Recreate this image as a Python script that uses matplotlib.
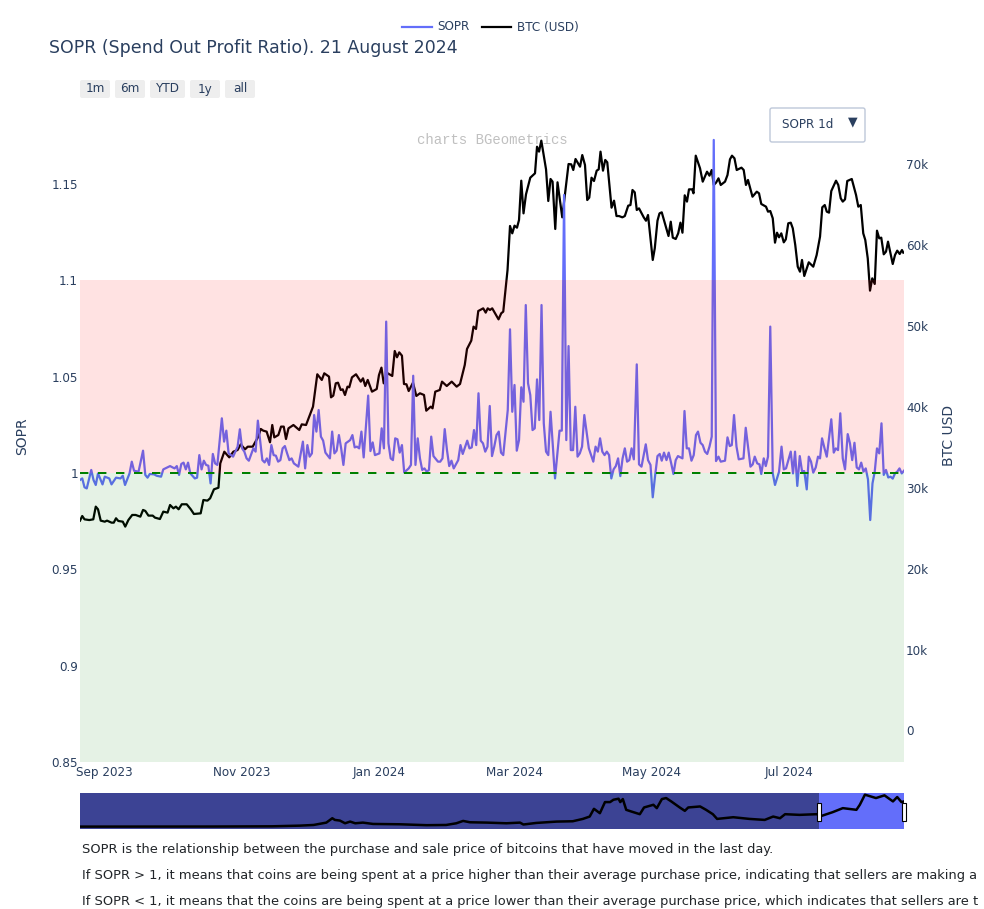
import pandas as pd
import matplotlib.pyplot as plt
from matplotlib.patches import FancyBboxPatch, Rectangle
from matplotlib.transforms import Affine2D

plt.rcParams['font.family'] = ['DejaVu Sans']

start = pd.Timestamp('2023-08-21')
end = start + pd.Timedelta(days=366)

# days since start, SOPR
sopr_days = [0,1,2,3,5,6,7,8,10,11,13,14,16,18,19,20,22,23,24,26,28,29,30,31,33,34,36,37,40,42,43,44,45,46,47,48,49,51,52,53,54,55,56,57,58,59,60,61,63,64,65,66,68,69,70,71,72,73,74,75,77,78,79,80,81,82,83,84,85,86,87,88,89,90,91,92,93,94,95,97,99,100,101,102,103,104,105,106,107,108,109,111,112,113,114,115,116,117,118,
    120,121,122,123,124,125,126,128,129,130,131,133,134,135,136,137,138,139,140,141,142,143,144,146,147,148,149,150,151,152,153,154,155,156,157,159,160,161,162,163,164,165,166,168,169,170,172,173,174,175,176,177,178,179,180,181,182,183,184,185,186,187,188,190,191,192,193,194,195,196,197,198,199,200,201,202,203,204,205,206,207,208,209,211,213,214,215,216,217,218,219,220,221,222,223,224,225,226,228,229,230,231,232,233,234,235,236,237,238,239,
    240,241,242,243,244,245,246,247.3,248.3,249.4,251.3,252.3,253.4,254.4,255.4,256.5,257.5,258.4,259.4,260.5,261.5,262.6,263.6,264.6,265.6,267.6,268.5,269.5,270.5,271.6,272.6,273.6,274.5,275.6,276.6,277.6,278.6,279.6,280.6,281.5,282.5,283.6,284.6,286.5,287.6,288.6,289.5,290.5,291.6,292.6,294.7,295.7,296.7,297.8,298.8,299.7,300.8,301.8,302.6,303.7,304.6,305.6,306.6,307.7,308.7,310.5,311.6,312.6,313.6,315.7,316.7,317.6,318.6,319.7,320.7,321.7,322.8,323.7,324.7,325.7,326.8,327.8,328.7,329.6,330.7,331.7,333.7,334.8,335.7,336.7,337.7,338.8,339.8,341,342,343,344,345,346,347,348,349,350,351,352,353,354,355,356,357,358,359,360,361,362,363,364,365,366]
sopr_vals = [0.9964,0.9972,0.9926,0.9920,1.0016,0.9964,0.9938,0.9998,0.9941,0.9981,0.9972,0.9941,0.9976,0.9972,0.9986,0.9938,0.9998,1.0059,1.0012,1.0007,1.0116,0.999,0.9976,0.9995,0.9993,0.9986,0.9981,1.0019,1.0036,1.0024,1.0036,0.999,1.0047,1.0054,1.0019,1.0054,0.9998,0.9972,0.9976,1.0093,1.0019,1.0064,1.0042,1.0038,0.9946,1.0099,1.005,1.0042,1.0284,1.0163,1.022,1.0102,1.0085,1.0111,1.0137,1.0227,1.0128,1.0111,1.0076,1.0064,1.0128,1.0111,1.0272,1.0171,1.0067,1.0055,1.0076,1.0042,1.0145,1.0093,1.009,1.0059,1.0067,1.0128,1.014,1.0102,1.0067,1.0076,1.005,1.0033,1.0163,1.0024,1.0145,1.0085,1.0102,1.0301,1.0215,1.0327,1.0189,1.0168,1.0106,1.0076,1.0215,1.0102,1.0116,1.0197,1.0128,1.0042,1.0154,
    1.0171,1.0197,1.0133,1.0137,1.0128,1.0215,1.0081,1.0402,1.0114,1.0159,1.0093,1.0102,1.0232,1.0128,1.0786,1.0154,1.0076,1.0067,1.018,1.0175,1.0106,1.0145,1.0003,1.0024,1.0042,1.0505,1.0042,1.018,1.0076,1.0016,1.0024,1.0007,1.0016,1.0189,1.0088,1.0059,1.0059,1.0076,1.0228,1.0119,1.0036,1.0064,1.0024,1.0067,1.0145,1.0099,1.0168,1.0128,1.0133,1.0223,1.0145,1.0414,1.0168,1.0154,1.0111,1.0137,1.0348,1.0088,1.0137,1.0197,1.0215,1.0106,1.0093,1.0327,1.0746,1.0318,1.0457,1.0116,1.0171,1.0445,1.037,1.0872,1.0466,1.0405,1.0223,1.0232,1.0486,1.0275,1.0872,1.0258,1.0111,1.0093,1.0318,0.9972,1.022,1.022,1.1443,1.0171,1.0659,1.0119,1.0119,1.0344,1.0085,1.0102,1.0137,1.0301,1.0215,1.0128,1.0059,1.0137,1.0111,1.018,1.0111,1.0093,1.0111,1.0093,0.9972,1.0019,1.0036,1.0076,
    0.9984,1.0076,1.0128,1.0059,1.0067,1.0128,1.0071,1.0564,1.0045,1.0033,1.0149,1.0067,1.0042,0.9874,0.9981,1.0088,1.0099,1.0064,1.0106,1.0067,1.0106,1.005,0.9995,1.0067,1.0088,1.0076,1.0322,1.0128,1.0128,1.0064,1.0093,1.0197,1.0215,1.0157,1.0145,1.0111,1.0099,1.0137,1.0189,1.1729,1.0062,1.0085,1.0059,1.0064,1.0185,1.014,1.0145,1.0301,1.0137,1.0071,1.0076,1.0235,1.0137,1.0033,1.0045,1.0085,1.005,1.0045,0.9995,1.0076,1.0036,1.0085,1.076,0.9998,0.9938,1.0007,1.0137,1.0019,1.0024,1.0111,0.9998,1.0111,0.9933,1.0088,1.001,1.001,0.9915,1.0085,1.0059,1.0002,1.0029,1.0085,1.0076,1.018,1.0128,1.0085,1.0279,1.0106,1.0128,1.0119,1.031,1.0076,1.0019,1.0202,1.0154,1.0067,1.0157,1.0029,1.0019,1.0054,1.0007,1.0024,0.9967,0.9756,0.9946,1.0007,1.0128,1.0102,1.0258,0.999,1.0016,0.9977,0.9981,0.9971,0.9998,1.0007,1.0024,0.9998,1.0012]

# days since start, BTC price
btc_days = [0,1,2,4.1,5.9,7,8,9.2,11,12,14,15,16,17,19,20.1,21.5,23.2,24.7,26.8,28,29,30.4,32.3,33.3,35.5,37,38.9,40,41.5,42.6,43.8,45.2,47.4,49.2,50.6,53.6,54.8,56.6,57.8,59.5,61.5,62.3,64.1,66.3,68.1,70,71.4,73.3,74.5,76.7,79.2,80.3,81.4,82.9,84.4,85.4,86.3,88.1,89.3,90.5,91.5,92.6,94.8,97.4,98.5,100.4,103.5,105.4,107.4,108.5,110.6,111.5,112.5,113.6,114.6,115.8,116.7,117.7,118.8,
    119.6,120.8,122.6,124.7,125.7,126.7,127.8,129.7,131.8,132.8,133.9,134.9,136.7,138.7,139.8,140.8,141.8,143,143.9,145,146,147.9,149.4,151,152.8,153.8,155.8,156.6,157.8,159.8,160.8,162.9,165.1,167.3,168.8,170.9,171.9,173.8,174.8,175.9,176.9,179.1,180.2,181.1,182.1,183.1,185.9,187.1,188,189.9,191,192,193,194.1,195,196,197,198.1,200,202.1,203,203.9,204.9,207,208,209,209.9,211.1,212.1,214.2,215.1,217,218.2,219.1,220.1,222.1,223.1,224.3,225.3,226.2,227.2,228.3,229.5,230.4,231.2,232.3,233.3,234.2,236.1,237.2,238.3,239.4,
    240.9,242,243.5,244.5,245.4,246.4,247.3,248.3,250.4,251.4,252.3,254.4,255.3,256.5,257.4,258.4,261.4,262.4,263.3,264.6,265.7,266.7,267.6,268.6,269.6,270.5,271.9,272.5,273.5,275.4,276.6,278.5,279.6,280.6,281.5,282.5,283.6,284.6,286.5,287.6,288.7,289.6,290.7,291.7,293.8,294.8,295.8,296.7,298.7,300.6,301.6,302.6,304.7,305.6,306.6,307.7,308.7,309.6,310.5,311.5,312.6,313.5,314.6,315.7,316.6,317.7,318.8,319.8,320.7,321.7,323.7,325.7,327.2,328.7,329.7,330.8,331.7,332.7,333.7,335.8,336.8,337.9,338.8,339.8,340.8,342.8,344.7,345.7,346.8,347.9,348.8,349.9,350.9,351.9,353,354,355,355.9,357,358,358.9,361,362,363,364.1,365.1,365.7]
btc_vals = [25927,26500,26090,26000,26090,27660,27330,25930,25800,25930,25680,25680,26220,25890,25800,25190,26010,26630,26630,26420,27250,27130,26550,26550,26300,26130,27040,26920,27860,27450,27660,27330,27950,27950,27330,26750,26830,28480,28400,28690,29800,30000,33000,34450,33750,34450,34660,35360,34740,35070,35070,36310,37260,37050,36930,35610,37750,36220,36510,37550,37550,36020,37340,37750,37130,37830,37750,40020,44020,43320,44140,43730,41170,41380,42900,42980,42080,42160,41460,42490,
    42410,43640,44020,43110,43520,42570,43320,41870,42200,43930,44840,42900,44140,43810,46900,46120,46730,46320,42820,42780,41950,42980,41340,41670,41460,39520,40020,39810,41870,42080,43110,42570,43110,42490,42820,45170,47150,48180,49910,49620,51840,52170,51640,52170,51970,52170,50810,51560,51760,56910,62350,61440,62390,62140,63090,67950,63910,66260,68320,68860,72150,71540,72900,69350,65440,68160,67830,61980,67750,63420,65560,70010,69970,69270,70630,69680,71120,69890,65560,65850,68320,67910,69190,69350,71540,69190,70510,70220,64610,65480,63580,63580,
    63420,63580,64860,64940,66800,66510,64330,64530,63420,63000,63710,58150,59590,63000,63910,64040,61110,62880,60910,60740,61440,62760,61520,66140,65360,66880,66880,66390,71040,69480,67830,69060,68570,69270,67420,67700,68240,67420,67830,68650,70590,71040,70710,69270,69560,69270,67420,68040,65970,66590,66390,65070,64740,64120,64200,63300,60290,61520,60950,61440,60330,60700,62680,62760,62060,60000,57320,56700,58150,56170,57860,57320,58760,61030,64660,64940,64120,64000,66670,67950,67420,65770,65360,65640,67910,68160,66180,64740,64940,61440,60620,58350,54360,55880,55180,61770,60820,60910,58850,59180,60410,57650,58760,59300,58890,59380,59050]

# whole history for the range slider
mini_years = [2014.94,2016.5,2017.2,2017.53,2017.69,2017.84,2017.91,2017.94,2018.0,2018.06,2018.12,2018.18,2018.27,2018.39,2018.71,2019.02,2019.25,2019.37,2019.45,2019.53,2019.73,2019.96,2020.12,2020.16,2020.31,2020.55,2020.74,2020.86,2020.94,2020.99,2021.06,2021.12,2021.18,2021.22,2021.28,2021.30,2021.33,2021.37,2021.43,2021.53,2021.58,2021.69,2021.73,2021.79,2021.84,2021.90,2022.0,2022.06,2022.10,2022.24,2022.31,2022.39,2022.44,2022.63,2022.82,2023.0,2023.1,2023.18,2023.24,2023.41,2023.61,2023.67,2023.80,2023.92,2024.08,2024.12,2024.18,2024.31,2024.41,2024.51,2024.56,2024.61,2024.64]
mini_vals = [300,500,1000,2500,4000,9250,19000,15250,13750,7750,11500,7750,9250,6250,5500,3500,4000,7750,13000,10000,9250,7750,9250,5000,8500,11500,12250,17500,22750,40000,30250,55000,55000,60250,62500,55000,61750,37750,34000,28000,43000,49000,41500,61750,64000,56500,43000,35500,43000,45250,37750,28000,17500,21250,17500,15250,22750,19000,28000,26500,28000,24250,32500,41500,37750,49000,71500,64000,70000,56500,66250,55000,56500]

tick_dates = ['2023-09-01','2023-11-01','2024-01-01','2024-03-01','2024-05-01','2024-07-01']
tick_names = ['Sep 2023','Nov 2023','Jan 2024','Mar 2024','May 2024','Jul 2024']
left_ticks = [0.85,0.9,0.95,1,1.05,1.1,1.15]
left_names = ['0.85','0.9','0.95','1','1.05','1.1','1.15']
right_ticks = [0,10000,20000,30000,40000,50000,60000,70000]
right_names = ['0','10k','20k','30k','40k','50k','60k','70k']
buttons = ['1m','6m','YTD','1y','all']

W, H = 984, 909
INK = '#2a3f5f'
BLUE = '#636efa'
TICK = 8.64
PX = Affine2D().scale(1, -1).translate(0, H)


def box(l, t, r, b):
    return [l / W, 1 - b / H, (r - l) / W, (b - t) / H]


def to_dates(days):
    return start + pd.to_timedelta(days, unit='D')


fig = plt.figure(figsize=(W / 100, H / 100), dpi=100)
ax = fig.add_axes(box(80, 133, 904, 762))
ax2 = ax.twinx()
ax.set_zorder(2)
ax2.set_zorder(1)
ax.patch.set_visible(False)

ax2.plot(to_dates(btc_days), btc_vals, color='black', lw=1.6, label='BTC (USD)')
ax.plot(to_dates(sopr_days), sopr_vals, color=BLUE, lw=1.6, label='SOPR')

# shapes sit over the traces
ax.axhspan(1, 1.1, color='red', alpha=0.115, lw=0, zorder=5)
ax.axhspan(0.85, 1, color='green', alpha=0.1, lw=0, zorder=5)
ax.axhline(1, color='green', lw=1.44, dashes=(4.2, 4.8), zorder=6)

ax.set_xlim(start, end)
ax.set_ylim(0.85, 1.1765)
ax2.set_ylim(-3906, 73844)
ax.set_yticks(left_ticks, left_names)
ax2.set_yticks(right_ticks, right_names)
ax.set_xticks(pd.to_datetime(tick_dates), tick_names)
for a in (ax, ax2):
    for s in a.spines.values():
        s.set_visible(False)
    a.tick_params(length=0, labelsize=TICK, labelcolor=INK, pad=1.5)
ax.tick_params(axis='x', pad=3)

fig.text(22 / W, 1 - 436 / H, 'SOPR', rotation=90, color=INK, fontsize=10, ha='center', va='center')
fig.text(949 / W, 1 - 435 / H, 'BTC USD', rotation=90, color=INK, fontsize=10, ha='center', va='center')
fig.text(49 / W, 1 - 48 / H, 'SOPR (Spend Out Profit Ratio). 21 August 2024', color=INK, fontsize=12.5, ha='left', va='center')
fig.text(492.5 / W, 1 - 140 / H, 'charts BGeometrics', family='Liberation Mono', color='#c0c0c0', fontsize=10.1, ha='center', va='center')

# legend drawn by hand, plotly style
fig.add_artist(plt.Line2D([402 / W, 432 / W], [1 - 27 / H] * 2, color=BLUE, lw=1.6))
fig.add_artist(plt.Line2D([482 / W, 511 / W], [1 - 27 / H] * 2, color='black', lw=1.6))
fig.text(437 / W, 1 - 27 / H, 'SOPR', color=INK, fontsize=TICK, va='center')
fig.text(517 / W, 1 - 27 / H, 'BTC (USD)', color=INK, fontsize=TICK, va='center')

# range buttons
button_edges = [(80, 110), (115, 145), (150, 185), (190, 220), (225, 255)]
for name, (l, r) in zip(buttons, button_edges):
    fig.add_artist(FancyBboxPatch((l + 2, 82), r - l - 4, 14, boxstyle='round,pad=2', fc='#eeeeee', ec='none', transform=PX))
    fig.text((l + r) / 2 / W, 1 - 89 / H, name, color=INK, fontsize=TICK, ha='center', va='center')

# dropdown
fig.add_artist(FancyBboxPatch((772, 110), 91, 30, boxstyle='round,pad=2', fc='white', ec='#bec8d9', lw=1, transform=PX))
fig.text(782 / W, 1 - 124 / H, 'SOPR 1d', color=INK, fontsize=TICK, va='center')
fig.text(853 / W, 1 - 122 / H, '▼', color=INK, fontsize=9, ha='center', va='center')

# range slider
mini = fig.add_axes(box(80, 793, 904, 829))
mini.set_facecolor(BLUE)
mini.plot(mini_years, mini_vals, color='black', lw=1.8)
mini.set_xlim(2014.94, 2024.64)
mini.set_ylim(-5000, 75250)
mini.axvspan(2014.94, 2023.64, color='#3c4394', lw=0, zorder=0)
mini.set_xticks([])
mini.set_yticks([])
for s in mini.spines.values():
    s.set_visible(False)
for x in (819, 904):
    fig.add_artist(Rectangle(((x - 2) / W, 1 - 821 / H), 4 / W, 18 / H, fc='white', ec='black', lw=0.8))

# description under the chart, the page cuts it off at the right in the original
fig.text(82 / W, 1 - 850 / H, 'SOPR is the relationship between the purchase and sale price of bitcoins that have moved in the last day.',
         color='#212529', fontsize=9.38, va='center')
fig.text(82 / W, 1 - 876 / H, 'If SOPR > 1, it means that coins are being spent at a price higher than their average purchase price, indicating that sellers are making a',
         color='#212529', fontsize=9.38, va='center')
fig.text(82 / W, 1 - 902 / H, 'If SOPR < 1, it means that the coins are being spent at a price lower than their average purchase price, which indicates that sellers are t',
         color='#212529', fontsize=9.38, va='center')

fig.savefig('out.png', dpi=100)
